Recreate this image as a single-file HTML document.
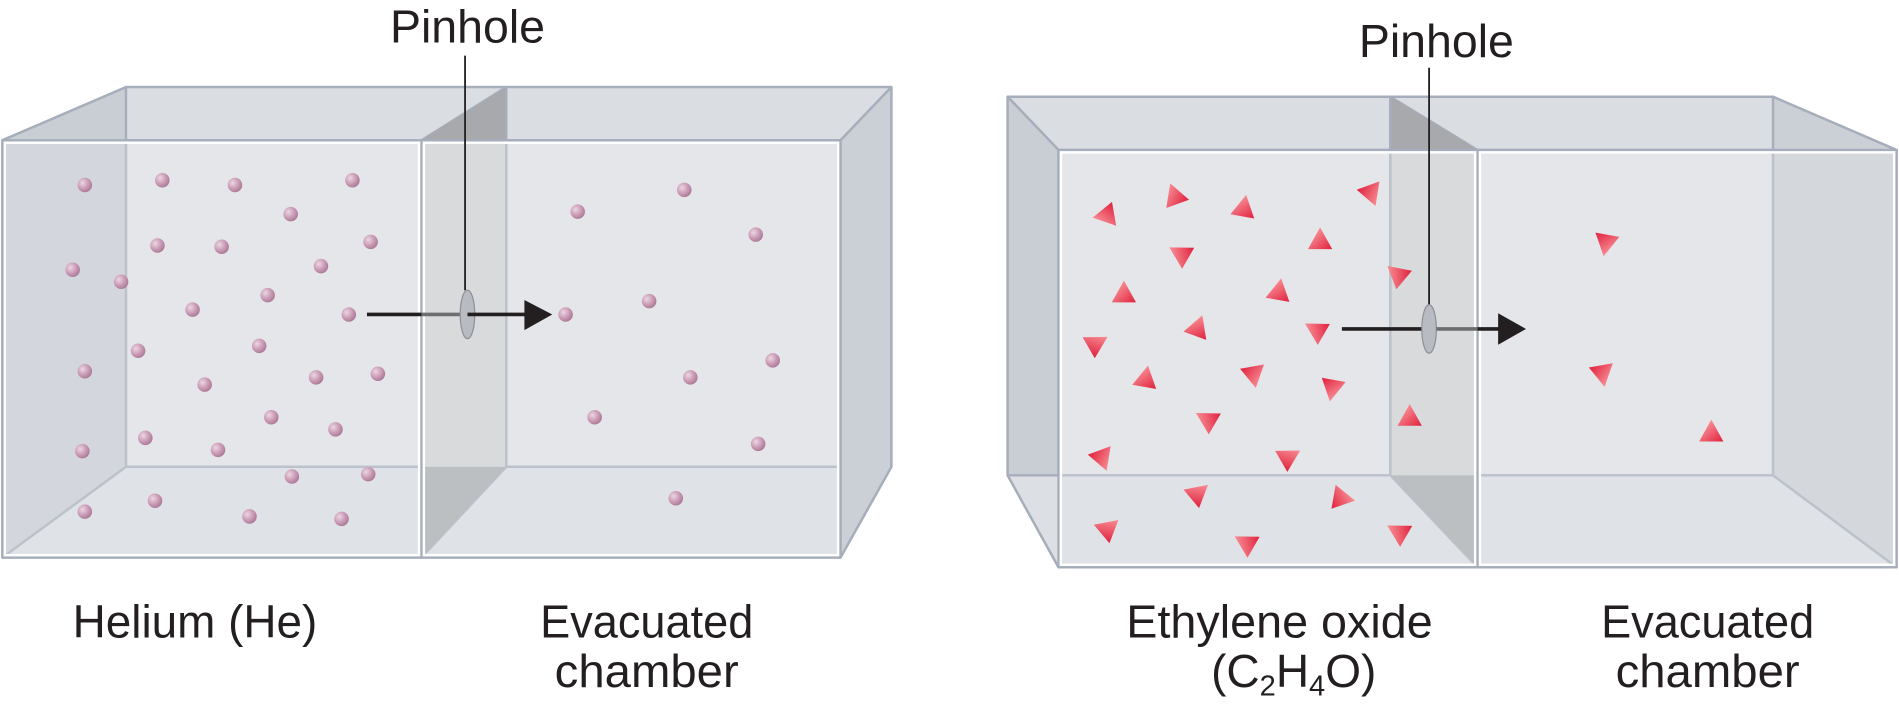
<!DOCTYPE html>
<html><head><meta charset="utf-8"><style>
html,body{margin:0;padding:0;background:#fff;}
svg{display:block;}
text{font-family:"Liberation Sans",sans-serif;fill:#231f20;}
</style></head><body>
<svg width="1899" height="716" viewBox="0 0 1568 592" preserveAspectRatio="none" xmlns="http://www.w3.org/2000/svg">
<defs>
<radialGradient id="dot" cx="0.35" cy="0.35" r="0.7">
<stop offset="0" stop-color="#ecd6e2"/><stop offset="0.6" stop-color="#c898b4"/><stop offset="1" stop-color="#a87894"/>
</radialGradient>
<linearGradient id="tri" x1="0" y1="0" x2="1" y2="1">
<stop offset="0" stop-color="#ffb0b0"/><stop offset="1" stop-color="#e0203c"/>
</linearGradient>
<g id="t"><polygon points="0,-11 10,7 -10,7" fill="url(#tri)"/></g>
</defs>

<!-- LEFT BOX -->
<g stroke="#a6aebb" stroke-width="2" stroke-linejoin="round">
<rect x="104" y="72" width="632" height="314" fill="#e3e5e9"/>
<polygon points="2,116 104,72 736,72 694,116" fill="#dadde2"/>
<polygon points="2,116 104,72 104,386 2,461" fill="#c9cdd4"/>
<polygon points="2,461 104,386 736,386 694,461" fill="#dcdfe3"/>
<polygon points="694,116 736,72 736,386 694,461" fill="#cbcfd6"/>
<polygon points="348,116 418,72 418,386 348,461" fill="#d2d3d5"/>
<polygon points="348,116 418,72 418,116" fill="#a7a9ac" stroke="none"/>
<polygon points="348,461 418,386 348,386" fill="#a7a9ac" stroke="none"/>
<line x1="418" y1="72" x2="418" y2="386"/>
<rect x="2" y="116" width="346" height="345" fill="#e6e7ea" fill-opacity="0.35"/>
<rect x="348" y="116" width="346" height="345" fill="#e6e7ea" fill-opacity="0.35"/>
</g>
<g fill="none" stroke="#fff" stroke-width="2">
<rect x="4" y="118" width="342" height="341"/><rect x="350" y="118" width="342" height="341"/>
</g>

<!-- RIGHT BOX -->
<g stroke="#a6aebb" stroke-width="2" stroke-linejoin="round">
<rect x="832" y="80" width="632" height="313" fill="#e3e5e9"/>
<polygon points="832,80 1464,80 1566,124 874,124" fill="#dadde2"/>
<polygon points="832,80 874,124 874,469 832,393" fill="#c9cdd4"/>
<polygon points="832,393 1464,393 1566,469 874,469" fill="#dcdfe3"/>
<polygon points="1464,80 1566,124 1566,469 1464,393" fill="#cbcfd6"/>
<polygon points="1148,80 1220,124 1220,469 1148,393" fill="#d2d3d5"/>
<polygon points="1148,80 1220,124 1148,124" fill="#a7a9ac" stroke="none"/>
<polygon points="1148,393 1220,469 1220,393" fill="#a7a9ac" stroke="none"/>
<line x1="1148" y1="80" x2="1148" y2="393"/>
<rect x="874" y="124" width="346" height="345" fill="#e6e7ea" fill-opacity="0.35"/>
<rect x="1220" y="124" width="346" height="345" fill="#e6e7ea" fill-opacity="0.35"/>
</g>
<g fill="none" stroke="#fff" stroke-width="2">
<rect x="876" y="126" width="342" height="341"/><rect x="1222" y="126" width="342" height="341"/>
</g>

<!-- dots -->
<g fill="url(#dot)">
<circle cx="70" cy="153" r="6"/><circle cx="134" cy="149" r="6"/><circle cx="194" cy="153" r="6"/><circle cx="291" cy="149" r="6"/>
<circle cx="240" cy="177" r="6"/><circle cx="130" cy="203" r="6"/><circle cx="183" cy="204" r="6"/><circle cx="306" cy="200" r="6"/>
<circle cx="265" cy="220" r="6"/><circle cx="60" cy="223" r="6"/><circle cx="100" cy="233" r="6"/><circle cx="221" cy="244" r="6"/>
<circle cx="159" cy="256" r="6"/><circle cx="288" cy="260" r="6"/><circle cx="467" cy="260" r="6"/><circle cx="536" cy="249" r="6"/>
<circle cx="114" cy="290" r="6"/><circle cx="214" cy="286" r="6"/><circle cx="312" cy="309" r="6"/><circle cx="261" cy="312" r="6"/>
<circle cx="169" cy="318" r="6"/><circle cx="70" cy="307" r="6"/><circle cx="224" cy="345" r="6"/><circle cx="277" cy="355" r="6"/>
<circle cx="120" cy="362" r="6"/><circle cx="180" cy="372" r="6"/><circle cx="68" cy="373" r="6"/><circle cx="241" cy="394" r="6"/>
<circle cx="304" cy="392" r="6"/><circle cx="128" cy="414" r="6"/><circle cx="70" cy="423" r="6"/><circle cx="206" cy="427" r="6"/>
<circle cx="282" cy="429" r="6"/><circle cx="477" cy="175" r="6"/><circle cx="565" cy="157" r="6"/><circle cx="624" cy="194" r="6"/>
<circle cx="638" cy="298" r="6"/><circle cx="570" cy="312" r="6"/><circle cx="491" cy="345" r="6"/><circle cx="626" cy="367" r="6"/>
<circle cx="558" cy="412" r="6"/>
</g>

<!-- triangles -->
<g>
<use href="#t" transform="translate(913,178) rotate(-100)"/>
<use href="#t" transform="translate(970,162) rotate(-20)"/>
<use href="#t" transform="translate(1027,172) rotate(10)"/>
<use href="#t" transform="translate(1132,160) rotate(160)"/>
<use href="#t" transform="translate(1090,199) rotate(0)"/>
<use href="#t" transform="translate(975,210) rotate(-60)"/>
<use href="#t" transform="translate(1154,227) rotate(-50)"/>
<use href="#t" transform="translate(928,243) rotate(0)"/>
<use href="#t" transform="translate(1056,241) rotate(10)"/>
<use href="#t" transform="translate(989,271) rotate(20)"/>
<use href="#t" transform="translate(1087,273) rotate(-60)"/>
<use href="#t" transform="translate(905,284) rotate(60)"/>
<use href="#t" transform="translate(946,313) rotate(10)"/>
<use href="#t" transform="translate(1035,310) rotate(170)"/>
<use href="#t" transform="translate(1100,321) rotate(190)"/>
<use href="#t" transform="translate(997,347) rotate(-60)"/>
<use href="#t" transform="translate(1164,345) rotate(0)"/>
<use href="#t" transform="translate(910,379) rotate(160)"/>
<use href="#t" transform="translate(1064,378) rotate(60)"/>
<use href="#t" transform="translate(989,408) rotate(50)"/>
<use href="#t" transform="translate(1108,412) rotate(100)"/>
<use href="#t" transform="translate(915,437) rotate(50)"/>
<use href="#t" transform="translate(1029,449) rotate(-60)"/>
<use href="#t" transform="translate(1155,440) rotate(-60)"/>
<use href="#t" transform="translate(1326,201) rotate(190)"/>
<use href="#t" transform="translate(1323,309) rotate(170)"/>
<use href="#t" transform="translate(1413,358) rotate(0)"/>
</g>

<!-- arrows and pinholes -->
<line x1="384" y1="46" x2="384" y2="240" stroke="#231f20" stroke-width="1.5"/>
<line x1="303" y1="260" x2="348" y2="260" stroke="#231f20" stroke-width="3"/>
<line x1="348" y1="260" x2="386" y2="260" stroke="#6d6e71" stroke-width="3"/>
<ellipse cx="386" cy="260" rx="6" ry="20" fill="#b8bcc2" stroke="#8d9096" stroke-width="1"/>
<line x1="386" y1="260" x2="436" y2="260" stroke="#231f20" stroke-width="3"/>
<polygon points="433,248 456,260 433,273" fill="#231f20"/>

<line x1="1180" y1="56" x2="1180" y2="254" stroke="#231f20" stroke-width="1.5"/>
<line x1="1108" y1="272" x2="1180" y2="272" stroke="#231f20" stroke-width="3"/>
<ellipse cx="1180" cy="272" rx="6" ry="20" fill="#b8bcc2" stroke="#8d9096" stroke-width="1"/>
<line x1="1186" y1="272" x2="1220" y2="272" stroke="#6d6e71" stroke-width="3"/>
<line x1="1220" y1="272" x2="1240" y2="272" stroke="#231f20" stroke-width="3"/>
<polygon points="1237,259 1260,272 1237,285" fill="#231f20"/>

<!-- labels -->
<g font-size="38">
<text x="322" y="35" textLength="128" lengthAdjust="spacingAndGlyphs">Pinhole</text>
<text x="1122" y="47" textLength="128" lengthAdjust="spacingAndGlyphs">Pinhole</text>
<text x="60" y="527" textLength="202" lengthAdjust="spacingAndGlyphs">Helium (He)</text>
<text x="446" y="527" textLength="176" lengthAdjust="spacingAndGlyphs">Evacuated</text>
<text x="458" y="568" textLength="152" lengthAdjust="spacingAndGlyphs">chamber</text>
<text x="930" y="527" textLength="253" lengthAdjust="spacingAndGlyphs">Ethylene oxide</text>
<text x="1000" y="568">(C<tspan font-size="24" dy="7">2</tspan><tspan dy="-7">H</tspan><tspan font-size="24" dy="7">4</tspan><tspan dy="-7">O)</tspan></text>
<text x="1322" y="527" textLength="176" lengthAdjust="spacingAndGlyphs">Evacuated</text>
<text x="1334" y="568" textLength="152" lengthAdjust="spacingAndGlyphs">chamber</text>
</g>
</svg>
</body></html>
